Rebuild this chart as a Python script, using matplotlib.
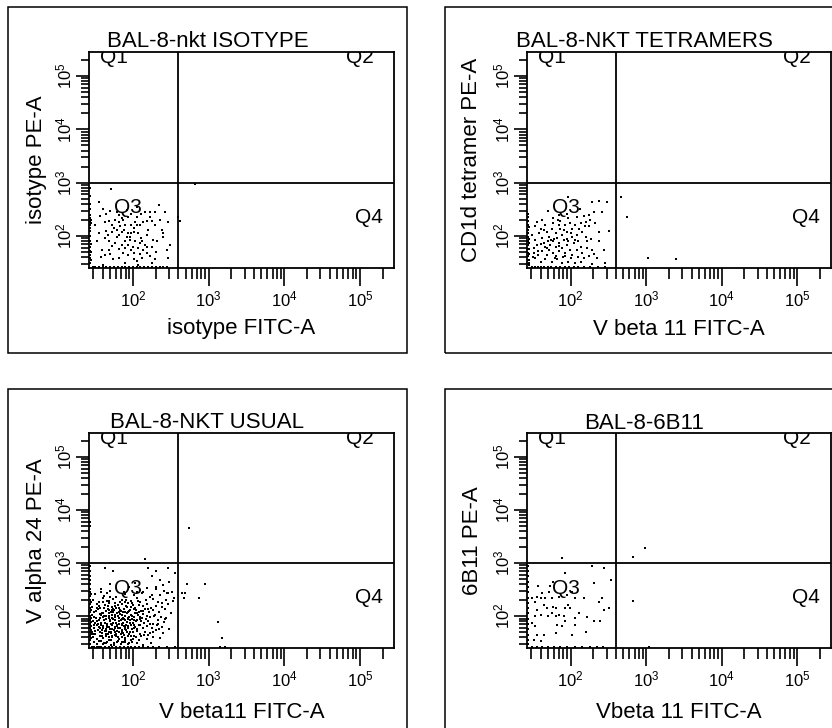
import matplotlib
matplotlib.use("Agg")
import matplotlib.pyplot as plt
from matplotlib.patches import Rectangle
from matplotlib.ticker import FixedLocator, FixedFormatter, LogLocator, NullFormatter
import numpy as np

plt.rcParams["font.family"] = ["Liberation Sans", "DejaVu Sans"]
plt.rcParams["mathtext.fontset"] = "custom"
plt.rcParams["mathtext.rm"] = "Liberation Sans"
plt.rcParams["mathtext.it"] = "Liberation Sans:italic"

# ---- panel texts ----
titles = ["BAL-8-nkt ISOTYPE", "BAL-8-NKT TETRAMERS", "BAL-8-NKT USUAL", "BAL-8-6B11"]
x_labels = ["isotype FITC-A", "V beta 11 FITC-A", "V beta11 FITC-A", "Vbeta 11 FITC-A"]
y_labels = ["isotype PE-A", "CD1d tetramer PE-A", "V alpha 24 PE-A", "6B11 PE-A"]
quadrant_names = ["Q1", "Q2", "Q3", "Q4"]
decade_ticks = [2, 3, 4, 5]

# quadrant gates (FITC, PE)
gate_fitc = 400
gate_pe = 1000

# ---- events, log10(FITC), log10(PE) ----
isotype_events = [
    (1.71, 2.88), (1.55, 2.63), (2.35, 2.59), (2.23, 2.45), (2.29, 2.45), (1.57, 2.38),
    (1.64, 2.42), (1.70, 2.47), (1.79, 2.45), (1.85, 2.34), (1.94, 2.36), (1.98, 2.42),
    (2.11, 2.42), (2.16, 2.45), (1.63, 2.27), (1.68, 2.28), (1.76, 2.30), (1.81, 2.27),
    (1.87, 2.30), (1.98, 2.21), (2.05, 2.21), (2.09, 2.21), (2.14, 2.27), (2.18, 2.28),
    (2.25, 2.28), (2.38, 2.11), (1.65, 2.09), (1.72, 2.08), (1.79, 2.11), (1.81, 2.02),
    (1.85, 2.08), (1.94, 2.05), (2.01, 2.08), (2.07, 2.05), (2.18, 2.02), (2.27, 1.93),
    (2.32, 1.90), (1.53, 1.90), (1.63, 1.96), (1.68, 1.91), (1.76, 1.87), (1.90, 1.90),
    (1.96, 1.93), (2.03, 1.90), (2.09, 1.87), (2.16, 1.83), (2.25, 1.80), (1.59, 1.74),
    (1.68, 1.74), (1.81, 1.76), (1.90, 1.77), (1.98, 1.74), (2.07, 1.77), (2.14, 1.74),
    (2.18, 1.80), (2.45, 1.74), (1.63, 1.65), (1.70, 1.66), (1.87, 1.68), (1.94, 1.65),
    (2.01, 1.68), (2.09, 1.66), (2.18, 1.68), (2.23, 1.62), (1.74, 1.56), (2.01, 1.56),
    (2.05, 1.54), (2.12, 1.59), (2.29, 1.56), (1.61, 1.46), (1.90, 2.21), (1.83, 2.18),
    (2.03, 2.27), (1.92, 1.99), (1.98, 2.05), (1.79, 1.99), (2.11, 1.96), (1.85, 1.83),
    (1.94, 1.83), (1.72, 2.21), (2.29, 2.21), (2.36, 2.30), (2.43, 2.45), (2.47, 2.27),
    (2.40, 1.99), (2.49, 1.83), (2.47, 1.59), (1.81, 1.59), (1.90, 1.49), (2.07, 1.46),
    (2.25, 1.49), (1.75, 2.15), (1.88, 2.12), (2.02, 2.15), (2.20, 2.12), (1.67, 2.02),
    (1.96, 1.98), (2.22, 2.35), (1.92, 2.48), (2.06, 2.55), (1.60, 2.50), (1.73, 1.82),
    (2.00, 1.80), (2.12, 1.90), (1.55, 2.05), (1.58, 1.60), (2.30, 1.70), (2.40, 2.05),
    (2.05, 2.35), (1.82, 2.40), (1.50, 2.20),
    (2.59, 2.36), (2.62, 2.29), (2.82, 2.98),
    (1.43, 2.90), (1.43, 2.75), (1.43, 2.60), (1.43, 2.50), (1.43, 2.40), (1.43, 2.33),
    (1.43, 2.27), (1.43, 2.20), (1.43, 2.15), (1.43, 2.10), (1.43, 2.00), (1.43, 1.90),
    (1.43, 1.80), (1.43, 1.72), (1.43, 1.65), (1.43, 1.58), (1.43, 1.50), (1.44, 2.30),
    (1.44, 2.24), (1.44, 1.85), (1.44, 1.70), (1.44, 1.55),
    (1.47, 1.41), (1.50, 1.41), (1.55, 1.41), (1.60, 1.41), (1.65, 1.41), (1.70, 1.41),
    (1.75, 1.41), (1.80, 1.41), (1.85, 1.41), (1.90, 1.41), (1.95, 1.41), (2.00, 1.41),
    (2.05, 1.41), (2.10, 1.41), (2.15, 1.41), (2.20, 1.41), (2.25, 1.41), (2.30, 1.41),
    (2.36, 1.41), (2.40, 1.41), (2.45, 1.41),
]

tetramer_events = [
    (1.97, 2.73), (2.28, 2.63), (2.38, 2.65), (2.48, 2.63), (2.31, 2.45), (2.24, 2.40),
    (2.17, 2.38), (2.08, 2.36), (1.97, 2.33), (1.86, 2.28), (1.77, 2.33), (1.70, 2.47),
    (1.62, 2.30), (1.55, 2.27), (1.53, 2.18), (1.60, 2.14), (1.66, 2.21), (1.75, 2.14),
    (1.84, 2.21), (1.91, 2.11), (1.95, 2.08), (2.02, 2.14), (2.06, 2.21), (2.13, 2.24),
    (2.20, 2.27), (2.26, 2.30), (2.32, 2.24), (2.24, 2.18), (2.15, 2.08), (2.08, 2.02),
    (2.02, 1.99), (1.88, 2.02), (1.80, 2.05), (1.71, 1.99), (1.62, 1.96), (1.53, 1.93),
    (1.49, 2.02), (1.55, 1.83), (1.64, 1.87), (1.73, 1.83), (1.80, 1.80), (1.84, 1.87),
    (1.95, 1.83), (2.04, 1.87), (2.13, 1.80), (2.22, 1.77), (2.28, 1.74), (2.37, 2.08),
    (2.51, 2.09), (1.62, 1.71), (1.71, 1.74), (1.77, 1.68), (1.84, 1.71), (1.93, 1.68),
    (2.02, 1.65), (2.15, 1.68), (2.17, 1.59), (2.24, 1.62), (2.31, 1.66), (1.53, 1.59),
    (1.60, 1.52), (1.66, 1.56), (1.75, 1.52), (1.82, 1.56), (1.88, 1.49), (1.97, 1.52),
    (2.06, 1.49), (2.13, 1.52), (2.35, 1.59), (1.82, 1.96), (1.91, 1.93), (1.97, 1.90),
    (2.06, 1.93), (1.77, 1.90), (1.68, 2.08), (1.86, 2.14), (1.99, 2.24), (1.93, 2.21),
    (2.11, 2.14), (2.20, 1.99), (1.58, 2.05), (1.51, 1.77), (1.51, 1.68), (1.88, 1.77),
    (1.99, 1.74), (2.08, 1.74), (1.80, 1.62), (1.68, 1.65), (2.22, 1.90), (2.37, 1.90),
    (2.44, 1.74), (2.46, 1.49), (2.28, 1.47), (1.74, 1.92), (1.66, 1.80), (1.90, 1.60),
    (2.00, 1.58), (1.57, 1.64), (1.85, 2.40), (1.76, 2.24), (1.60, 1.85), (1.70, 1.90),
    (1.78, 1.95), (1.85, 1.82), (1.95, 1.95), (2.10, 1.90), (2.00, 2.05), (1.68, 1.78),
    (1.56, 1.72), (1.79, 1.58), (1.92, 1.62), (2.10, 1.60), (1.65, 2.12), (1.83, 2.30),
    (2.19, 2.18), (2.27, 1.95), (1.50, 1.60), (1.95, 2.42), (2.12, 2.50), (2.42, 2.45),
    (2.67, 2.74), (2.75, 2.36), (3.02, 1.59), (3.40, 1.57),
    (1.43, 2.42), (1.43, 2.35), (1.43, 2.28), (1.43, 2.20), (1.43, 2.12), (1.43, 2.05),
    (1.43, 1.98), (1.43, 1.90), (1.43, 1.83), (1.43, 1.76), (1.43, 1.69), (1.43, 1.62),
    (1.43, 1.55), (1.43, 1.48), (1.45, 1.95), (1.45, 1.75), (1.45, 1.55), (1.45, 1.45),
    (1.44, 2.16), (1.44, 1.86), (1.44, 1.66), (1.44, 1.50),
    (1.48, 1.41), (1.52, 1.41), (1.56, 1.41), (1.60, 1.41), (1.65, 1.41), (1.70, 1.41),
    (1.74, 1.41), (1.80, 1.41), (1.86, 1.41), (1.92, 1.41), (1.98, 1.41), (2.04, 1.41),
    (2.10, 1.41), (2.18, 1.41), (2.26, 1.41), (2.36, 1.41), (2.45, 1.41),
]

usual_events = [
    (1.58, 2.52), (1.70, 2.47), (1.95, 2.55), (2.09, 2.49), (2.13, 2.46), (2.30, 2.51),
    (2.41, 2.48), (2.52, 2.45), (1.50, 2.41), (1.62, 2.38), (1.66, 2.44), (1.78, 2.36),
    (1.90, 2.42), (2.02, 2.39), (2.12, 2.44), (2.22, 2.37), (2.36, 2.40), (2.47, 2.43),
    (1.47, 2.31), (1.55, 2.27), (1.61, 2.34), (1.69, 2.29), (1.74, 2.33), (1.83, 2.26),
    (1.91, 2.31), (1.97, 2.28), (2.05, 2.34), (2.10, 2.27), (2.17, 2.30), (2.26, 2.33),
    (2.33, 2.26), (2.44, 2.30), (2.53, 2.28), (1.46, 2.18), (1.52, 2.23), (1.57, 2.16),
    (1.63, 2.21), (1.68, 2.24), (1.72, 2.17), (1.77, 2.20), (1.81, 2.15), (1.86, 2.22),
    (1.92, 2.18), (1.99, 2.24), (2.03, 2.16), (2.08, 2.21), (2.14, 2.19), (2.19, 2.23),
    (2.24, 2.16), (2.31, 2.20), (2.38, 2.17), (2.46, 2.22), (1.45, 2.11), (1.49, 2.07),
    (1.54, 2.13), (1.59, 2.06), (1.64, 2.10), (1.67, 2.14), (1.71, 2.08), (1.75, 2.12),
    (1.79, 2.05), (1.84, 2.09), (1.88, 2.13), (1.93, 2.07), (1.96, 2.11), (2.01, 2.14),
    (2.06, 2.06), (2.11, 2.10), (2.16, 2.13), (2.21, 2.07), (2.27, 2.11), (2.35, 2.08),
    (2.42, 2.13), (2.50, 2.06), (1.46, 2.02), (1.51, 1.97), (1.56, 2.04), (1.60, 1.99),
    (1.65, 2.01), (1.69, 1.96), (1.73, 2.03), (1.76, 1.98), (1.80, 2.00), (1.83, 2.04),
    (1.87, 1.97), (1.90, 2.01), (1.94, 1.96), (1.98, 2.03), (2.02, 1.99), (2.07, 2.02),
    (2.12, 1.97), (2.18, 2.01), (2.23, 1.98), (2.29, 2.03), (2.37, 1.99), (2.44, 1.96),
    (1.47, 1.91), (1.50, 1.87), (1.55, 1.93), (1.58, 1.88), (1.62, 1.92), (1.66, 1.86),
    (1.70, 1.90), (1.74, 1.94), (1.78, 1.88), (1.81, 1.91), (1.85, 1.86), (1.89, 1.93),
    (1.92, 1.89), (1.96, 1.92), (2.00, 1.87), (2.04, 1.90), (2.09, 1.94), (2.15, 1.88),
    (2.20, 1.91), (2.26, 1.86), (2.33, 1.92), (2.41, 1.89), (1.45, 1.81), (1.49, 1.77),
    (1.53, 1.83), (1.57, 1.78), (1.61, 1.82), (1.64, 1.76), (1.68, 1.80), (1.72, 1.84),
    (1.76, 1.77), (1.79, 1.81), (1.83, 1.78), (1.86, 1.83), (1.90, 1.79), (1.94, 1.82),
    (1.99, 1.76), (2.03, 1.80), (2.08, 1.84), (2.13, 1.77), (2.19, 1.81), (2.25, 1.78),
    (2.32, 1.83), (2.39, 1.79), (2.48, 1.76), (1.46, 1.71), (1.50, 1.67), (1.54, 1.73),
    (1.59, 1.68), (1.63, 1.72), (1.67, 1.66), (1.71, 1.70), (1.75, 1.74), (1.78, 1.67),
    (1.82, 1.71), (1.87, 1.69), (1.91, 1.73), (1.95, 1.66), (2.00, 1.70), (2.05, 1.72),
    (2.10, 1.67), (2.16, 1.71), (2.22, 1.68), (2.30, 1.73), (2.40, 1.69), (1.47, 1.61),
    (1.52, 1.57), (1.56, 1.63), (1.60, 1.58), (1.65, 1.62), (1.69, 1.56), (1.73, 1.60),
    (1.77, 1.64), (1.81, 1.57), (1.85, 1.61), (1.89, 1.59), (1.93, 1.63), (1.98, 1.56),
    (2.04, 1.60), (2.11, 1.62), (2.18, 1.57), (2.27, 1.61), (2.36, 1.58), (1.48, 1.51),
    (1.53, 1.47), (1.58, 1.53), (1.62, 1.49), (1.66, 1.52), (1.71, 1.46), (1.75, 1.50),
    (1.80, 1.54), (1.84, 1.48), (1.88, 1.51), (1.93, 1.47), (1.99, 1.52), (2.06, 1.49),
    (2.14, 1.46), (2.24, 1.50), (1.72, 2.12), (1.78, 2.15), (1.85, 2.02), (1.88, 1.95),
    (1.92, 2.05), (1.97, 1.84), (1.74, 1.88), (1.81, 1.96), (1.86, 1.74), (1.69, 2.06),
    (1.64, 1.94), (1.58, 2.02), (1.91, 2.20), (1.95, 2.10), (2.05, 1.93), (1.82, 1.85),
    (1.77, 1.79), (1.70, 1.75), (1.66, 1.83), (1.61, 1.77), (1.88, 1.64), (1.94, 1.77),
    (2.01, 1.83), (1.79, 1.72), (1.73, 1.63), (1.84, 1.92), (1.99, 1.95), (2.08, 2.08),
    (1.76, 2.25), (1.85, 2.30), (1.68, 2.00), (1.63, 1.88), (1.57, 1.71), (1.52, 1.90),
    (1.55, 1.80), (1.71, 1.55), (1.80, 1.60), (1.96, 1.70), (2.02, 1.63), (1.90, 1.52),
    (1.62, 2.16), (1.67, 2.19), (1.74, 2.07), (1.83, 2.12), (1.89, 2.08), (1.98, 2.18),
    (2.04, 2.11), (2.13, 2.04), (2.17, 1.95), (2.22, 1.86), (2.10, 1.83), (2.01, 1.78),
    (1.92, 1.71), (1.84, 1.67), (1.76, 1.70), (1.68, 1.71), (1.59, 1.74), (1.54, 1.86),
    (1.57, 1.96), (1.61, 2.05), (1.70, 1.93), (1.79, 1.84), (1.87, 1.88), (1.95, 1.98),
    (2.03, 2.05), (2.11, 1.91), (2.06, 1.75), (1.97, 1.62), (1.89, 1.56), (1.79, 1.52),
    (1.69, 1.61), (1.64, 1.67), (1.59, 1.62), (1.50, 1.72), (1.48, 1.83), (1.51, 2.09),
    (1.55, 2.19), (1.66, 2.28), (1.80, 2.21), (1.94, 2.25), (2.07, 2.28), (2.20, 2.14),
    (2.28, 2.00), (2.33, 1.85), (2.26, 1.71), (2.15, 1.64), (2.08, 1.55), (1.95, 1.50),
    (1.75, 1.45), (1.60, 1.47), (1.73, 1.97), (1.77, 2.03), (1.82, 1.90), (1.86, 1.95),
    (1.91, 1.84), (1.76, 1.92), (1.71, 1.86), (1.66, 1.79), (1.73, 1.76), (1.80, 1.78),
    (1.88, 1.81), (1.93, 1.94), (1.99, 2.01), (1.87, 2.07), (1.81, 2.08), (1.74, 2.14),
    (1.69, 2.11), (1.62, 2.00), (1.58, 1.83), (1.64, 1.72), (1.71, 1.68), (1.78, 1.63),
    (1.85, 1.70), (1.90, 1.76), (1.96, 1.87), (2.02, 1.92), (2.09, 1.99), (2.14, 2.09),
    (2.00, 2.21), (1.89, 2.26), (1.70, 2.36), (1.60, 2.26), (1.53, 2.16), (1.48, 1.98),
    (1.47, 1.66), (1.55, 1.54), (1.65, 1.50), (1.85, 1.52), (2.00, 1.57), (2.20, 1.64),
    (2.35, 1.76), (2.42, 1.95), (2.38, 2.25), (2.25, 2.40), (2.06, 2.45), (1.88, 2.46),
    (1.58, 2.45),
    (1.63, 2.91), (1.74, 2.85), (2.20, 2.91), (2.31, 2.85), (2.46, 2.91), (2.55, 2.81),
    (2.25, 2.76), (2.36, 2.68), (2.03, 2.62), (2.18, 2.53), (2.31, 2.54), (2.45, 2.43),
    (2.54, 2.35), (1.70, 2.60), (2.48, 2.64), (2.40, 2.58), (2.16, 3.08),
    (2.71, 2.61), (2.95, 2.61), (2.65, 2.44), (2.69, 2.44), (2.67, 2.35), (2.87, 2.35),
    (3.12, 1.89), (3.18, 1.59), (3.15, 1.42), (3.22, 1.42), (2.74, 3.66),
    (1.43, 3.78), (1.43, 3.70), (1.43, 2.95), (1.43, 2.85), (1.43, 2.75), (1.43, 2.68),
    (1.43, 2.60), (1.43, 2.52), (1.43, 2.45), (1.43, 2.38), (1.43, 2.30), (1.43, 2.22),
    (1.43, 2.15), (1.43, 2.08), (1.43, 2.00), (1.43, 1.93), (1.43, 1.85), (1.43, 1.78),
    (1.43, 1.70), (1.43, 1.62), (1.43, 1.55), (1.43, 1.48), (1.45, 2.26), (1.45, 1.96),
    (1.45, 1.66), (1.44, 2.41), (1.44, 2.11), (1.44, 1.89), (1.44, 1.74), (1.44, 1.58),
    (1.46, 1.41), (1.49, 1.41), (1.52, 1.41), (1.55, 1.41), (1.58, 1.41), (1.63, 1.41),
    (1.68, 1.41), (1.73, 1.41), (1.78, 1.41), (1.83, 1.41), (1.88, 1.41), (1.93, 1.41),
    (1.98, 1.41), (2.03, 1.41), (2.08, 1.41), (2.14, 1.41), (2.20, 1.41), (2.27, 1.41),
    (2.35, 1.41), (2.45, 1.41), (2.55, 1.41),
]

sixb11_events = [
    (1.88, 3.10), (2.28, 2.95), (2.44, 2.90), (1.92, 2.82), (2.54, 2.68), (2.31, 2.62),
    (1.57, 2.56), (1.73, 2.56), (1.77, 2.65), (1.71, 2.46), (1.62, 2.43), (1.55, 2.37),
    (1.49, 2.35), (1.52, 2.27), (1.60, 2.34), (1.66, 2.35), (1.75, 2.34), (1.84, 2.37),
    (2.02, 2.46), (2.06, 2.35), (2.17, 2.34), (2.42, 2.34), (2.37, 2.27), (2.51, 2.15),
    (2.44, 2.12), (1.97, 2.21), (1.93, 2.16), (1.99, 2.16), (1.64, 2.21), (1.68, 2.15),
    (1.77, 2.18), (1.81, 2.15), (1.75, 2.06), (1.84, 2.03), (1.91, 2.00), (1.55, 2.12),
    (1.53, 2.00), (1.60, 2.03), (1.70, 2.00), (1.80, 2.00), (2.21, 1.98), (2.31, 1.91),
    (2.39, 1.91), (1.93, 1.90), (2.06, 1.84), (1.82, 1.84), (1.49, 1.87), (1.53, 1.81),
    (2.20, 1.71), (1.55, 1.65), (1.64, 1.65), (1.80, 1.68), (2.02, 1.65), (1.51, 1.56),
    (1.60, 1.53), (1.88, 1.81), (2.06, 1.96), (2.11, 2.06), (1.95, 2.40),
    (2.82, 3.11), (2.98, 3.28), (2.82, 2.29), (3.04, 1.42),
    (1.43, 2.95), (1.43, 2.85), (1.43, 2.75), (1.43, 2.65), (1.43, 2.55), (1.43, 2.45),
    (1.43, 2.35), (1.43, 2.25), (1.43, 2.15), (1.43, 2.05), (1.43, 1.95), (1.43, 1.85),
    (1.43, 1.75), (1.43, 1.65), (1.43, 1.55), (1.43, 1.47),
    (1.48, 1.41), (1.55, 1.41), (1.62, 1.41), (1.70, 1.41), (1.78, 1.41), (1.86, 1.41),
    (1.95, 1.41), (2.05, 1.41), (2.15, 1.41), (2.25, 1.41), (2.35, 1.41), (2.43, 1.41),
]

panel_events = [isotype_events, tetramer_events, usual_events, sixb11_events]

# ---- layout (pixels of an 832 x 728 canvas) ----
W, H = 832, 728
plot_boxes = [(89, 52, 394, 268), (527, 52, 831, 268), (89, 433, 394, 648), (527, 433, 831, 648)]
outer_boxes = [(8, 7, 407, 353), (445, 7, 844, 353), (8, 389, 407, 735), (445, 389, 844, 735)]
title_base = [47, 47, 428, 429]
xlabel_base = [334, 335, 718, 718]
ylabel_x = [42, 477, 42, 478]

fig = plt.figure(figsize=(W / 100, H / 100), dpi=100)
fig.patch.set_facecolor("white")

LOG_LO_X, LOG_HI_X = 1.42, 5.45
LOG_LO_Y, LOG_HI_Y = 1.40, 5.45

for i in range(4):
    x0, y0, x1, y1 = plot_boxes[i]
    ax = fig.add_axes([x0 / W, 1 - y1 / H, (x1 - x0) / W, (y1 - y0) / H])
    ax.set_xscale("log")
    ax.set_yscale("log")
    ax.set_xlim(10 ** LOG_LO_X, 10 ** LOG_HI_X)
    ax.set_ylim(10 ** LOG_LO_Y, 10 ** LOG_HI_Y)

    ev = np.array(panel_events[i])
    ax.plot(10 ** ev[:, 0], 10 ** ev[:, 1], "s", ms=1.8, mew=0, color="black")

    # quadrant gates
    ax.axvline(gate_fitc, color="black", lw=1.3)
    ax.axhline(gate_pe, color="black", lw=1.3)

    # quadrant names (the top pair is cut by the frame)
    qpos = [(1.75, 5.24, "baseline"), (5.0, 5.24, "baseline"), (1.94, 2.53, "center"), (5.12, 2.35, "center")]
    for name, (qx, qy, va) in zip(quadrant_names, qpos):
        t = ax.text(10 ** qx, 10 ** qy, name, ha="center", va=va, fontsize=15, clip_on=True)
        t.set_clip_path(ax.patch)

    # axes decorations
    for sp in ax.spines.values():
        sp.set_linewidth(1.3)
    major = [10.0 ** d for d in decade_ticks]
    labels = [r"$\mathregular{10^{%d}}$" % d for d in decade_ticks]
    for axis in (ax.xaxis, ax.yaxis):
        axis.set_major_locator(FixedLocator(major))
        axis.set_major_formatter(FixedFormatter(labels))
        axis.set_minor_locator(LogLocator(base=10, subs=np.arange(2, 10)))
        axis.set_minor_formatter(NullFormatter())
    ax.tick_params(axis="x", which="major", length=13, width=1.2, pad=2.5, labelsize=12)
    ax.tick_params(axis="x", which="minor", length=8, width=1.2)
    ax.tick_params(axis="y", which="major", length=9.5, width=1.2, pad=1.2, labelsize=12, labelrotation=90)
    ax.tick_params(axis="y", which="minor", length=6, width=1.2)
    for lab in ax.get_yticklabels():
        lab.set_va("center")

    # panel frame and texts
    ox0, oy0, ox1, oy1 = outer_boxes[i]
    fig.add_artist(Rectangle((ox0 / W, 1 - oy1 / H), (ox1 - ox0) / W, (oy1 - oy0) / H,
                             transform=fig.transFigure, fill=False, lw=1.1, ec="black"))
    fig.text((ox0 + ox1) / 2 / W, 1 - title_base[i] / H, titles[i],
             ha="center", va="baseline", fontsize=16)
    fig.text((x0 + x1) / 2 / W, 1 - xlabel_base[i] / H, x_labels[i],
             ha="center", va="baseline", fontsize=16)
    fig.text(ylabel_x[i] / W, 1 - (y0 + y1) / 2 / H, y_labels[i], rotation=90,
             rotation_mode="anchor", ha="center", va="baseline", fontsize=16)

fig.savefig("out.png", dpi=100)
